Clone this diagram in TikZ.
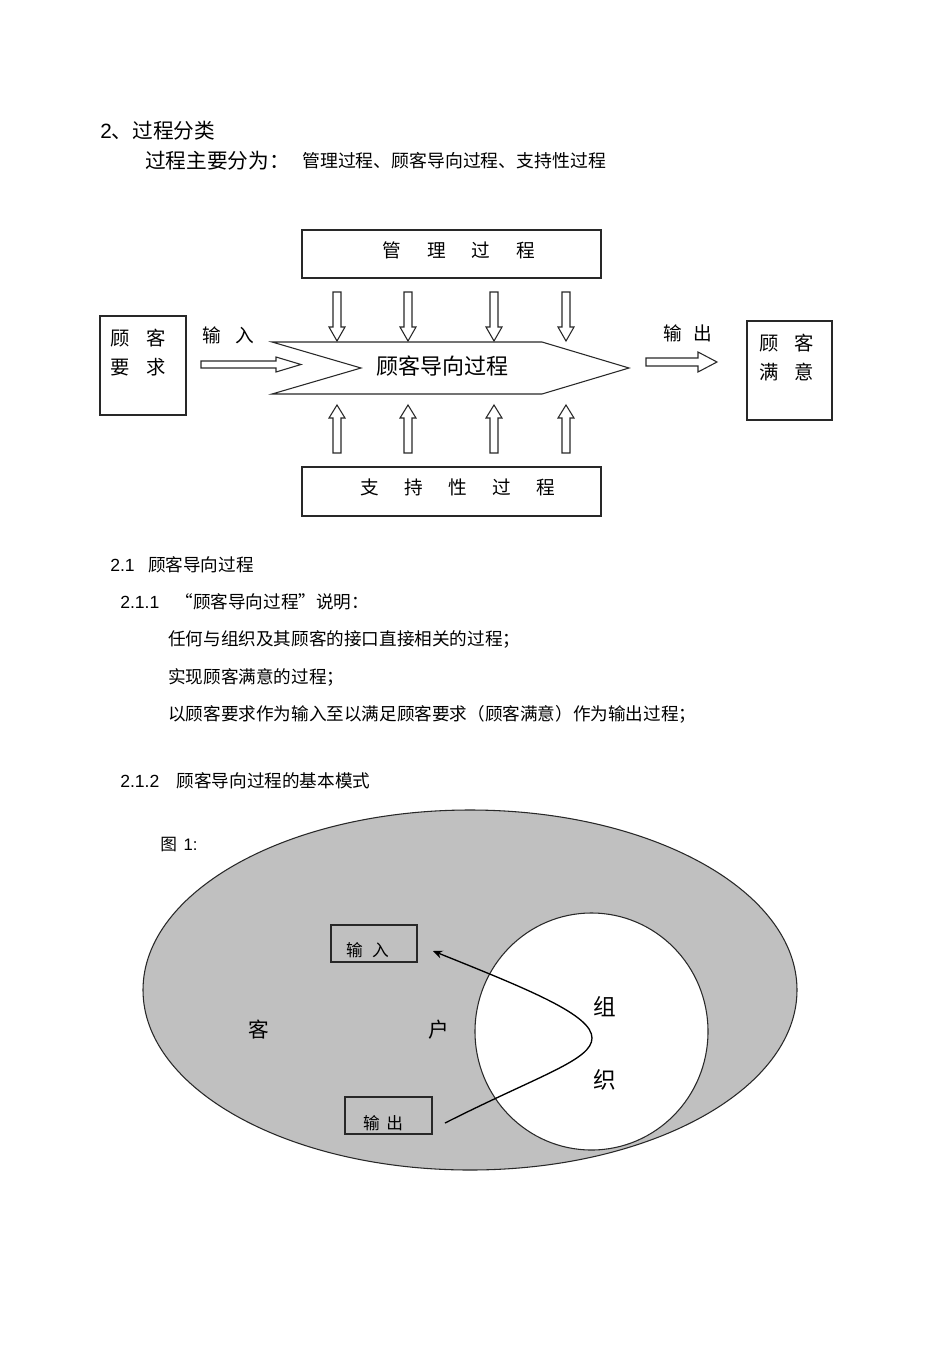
\documentclass[tikz,border=0pt]{standalone}
\usepackage{fontspec}
\setmainfont{Noto Sans CJK SC}
\newfontfamily\lat{Liberation Sans}
\usetikzlibrary{arrows.meta}
\newcommand\fs[1]{\fontsize{#1}{1.2\dimexpr #1\relax}\selectfont}
\definecolor{ellgray}{RGB}{192,192,192}
\definecolor{linegray}{RGB}{40,40,40}
\tikzset{
  txt/.style={inner sep=0pt, anchor=west},
  ctxt/.style={inner sep=0pt},
  box/.style={draw=linegray, line width=0.8pt, inner sep=0pt},
  hollow/.style={draw=linegray, fill=white, line width=0.8pt, line join=miter},
}
\begin{document}
\begin{tikzpicture}[x=0.75pt,y=-0.75pt]
\path[use as bounding box, fill=white] (0,0) rectangle (950,1345);

% headings
\node[txt,font=\fs{15.5pt}] (h2) at (100,131) {{\lat 2}、过程分类};
\node[txt,font=\fs{15.5pt}] (h2a) at (145,161) {过程主要分为：};
\node[txt,font=\fs{13.4pt}] (h2b) at (302,161) {管理过程、顾客导向过程、支持性过程};

% top and bottom boxes
\node[box, minimum width=224.25pt, minimum height=36pt] (mgmt) at (451.5,254) {};
\node[ctxt,font=\fs{14pt}] (mgmtt) at (459,250) {管\hspace{19.5pt}理\hspace{19.5pt}过\hspace{19.5pt}程};
\node[box, minimum width=224.25pt, minimum height=36.75pt] (supp) at (451.5,491.5) {};
\node[ctxt,font=\fs{14pt}] (suppt) at (458,487) {支\hspace{19pt}持\hspace{19pt}性\hspace{19pt}过\hspace{19pt}程};

% side boxes
\node[box, minimum width=64.5pt, minimum height=74.25pt] (req) at (143,365.5) {};
\node[ctxt,font=\fs{14.5pt}, align=left] (reqt) at (138,352.5) {顾\hspace{12.5pt}客\\[4pt]要\hspace{12.5pt}求};
\node[box, minimum width=63.75pt, minimum height=74.25pt] (sat) at (789.5,370.5) {};
\node[ctxt,font=\fs{14.5pt}, align=left] (satt) at (786.5,357.5) {顾\hspace{11.5pt}客\\[4pt]满\hspace{11.5pt}意};

% chevron
\draw[hollow] (272,342) -- (542,342) -- (629,368) -- (542,394) -- (272,394) -- (361,368) -- cycle;
\node[ctxt,font=\fs{16.5pt}] (cop) at (442,366) {顾客导向过程};

% labels
\node[ctxt,font=\fs{14pt}] (inl) at (228,335) {输\hspace{11pt}入};
\node[ctxt,font=\fs{14pt}] (outl) at (688,333) {输\hspace{9pt}出};

% input / output arrows
\draw[hollow] (201,361) -- (276,361) -- (276,357) -- (301,364.5) -- (276,372) -- (276,368) -- (201,368) -- cycle;
\draw[hollow] (646,358) -- (698,358) -- (698,352) -- (717,362) -- (698,372) -- (698,366) -- (646,366) -- cycle;

% down and up hollow arrows
\foreach \xx in {337,408,494,566}{
  \draw[hollow] (\xx-4,292) -- (\xx+4,292) -- (\xx+4,327) -- (\xx+8,327) -- (\xx,341) -- (\xx-8,327) -- (\xx-4,327) -- cycle;
  \draw[hollow] (\xx-4,453) -- (\xx+4,453) -- (\xx+4,418) -- (\xx+8,418) -- (\xx,405) -- (\xx-8,418) -- (\xx-4,418) -- cycle;
}

% section 2.1 text
\node[txt,font=\fs{13.2pt}] (s21) at (110,565) {{\lat 2.1}\hspace{10pt}顾客导向过程};
\node[txt,font=\fs{13.2pt}] (s211) at (120,602) {{\lat 2.1.1}\hspace{12pt}“顾客导向过程”说明：};
\node[txt,font=\fs{13.2pt}] (l1) at (168,639) {任何与组织及其顾客的接口直接相关的过程；};
\node[txt,font=\fs{13.2pt}] (l2) at (168,677) {实现顾客满意的过程；};
\node[txt,font=\fs{13.2pt}] (l3) at (168,714) {以顾客要求作为输入至以满足顾客要求（顾客满意）作为输出过程；};
\node[txt,font=\fs{13.2pt}] (s212) at (120,781) {{\lat 2.1.2}\hspace{13pt}顾客导向过程的基本模式};

% figure 1
\draw[draw=linegray, line width=0.8pt, fill=ellgray] (470,990) ellipse [x radius=327, y radius=180];
\node[txt,font=\fs{12.5pt}] (fig) at (160,845) {图\hspace{5pt}{\lat 1:}};
\draw[draw=linegray, line width=0.8pt, fill=white] (591.5,1031.5) ellipse [x radius=116.5, y radius=118.5];
\node[box, minimum width=64.5pt, minimum height=27.75pt] (inbox) at (374,943.5) {};
\node[ctxt,font=\fs{12.5pt}] (inboxt) at (367.5,950) {输\hspace{7pt}入};
\node[box, minimum width=65.25pt, minimum height=27.75pt] (outbox) at (388.5,1115.5) {};
\node[ctxt,font=\fs{12.5pt}] (outboxt) at (383,1123) {输\hspace{5pt}出};
\node[ctxt,font=\fs{15.5pt}] (ke) at (259,1030) {客};
\node[ctxt,font=\fs{15.5pt}] (hu) at (439,1030) {户};
\node[ctxt,font=\fs{17pt}] (zu) at (605,1007) {组};
\node[ctxt,font=\fs{17pt}] (zh) at (605,1080) {织};
\coordinate (cs) at (445,1123);
\coordinate (ce) at (433,951);
\draw[line width=1pt, -{Stealth[length=7pt,width=6pt]}] (cs) .. controls (540,1075) and (592,1060) .. (592,1038) .. controls (592,1015) and (530,990) .. (ce);
\end{tikzpicture}
\end{document}
